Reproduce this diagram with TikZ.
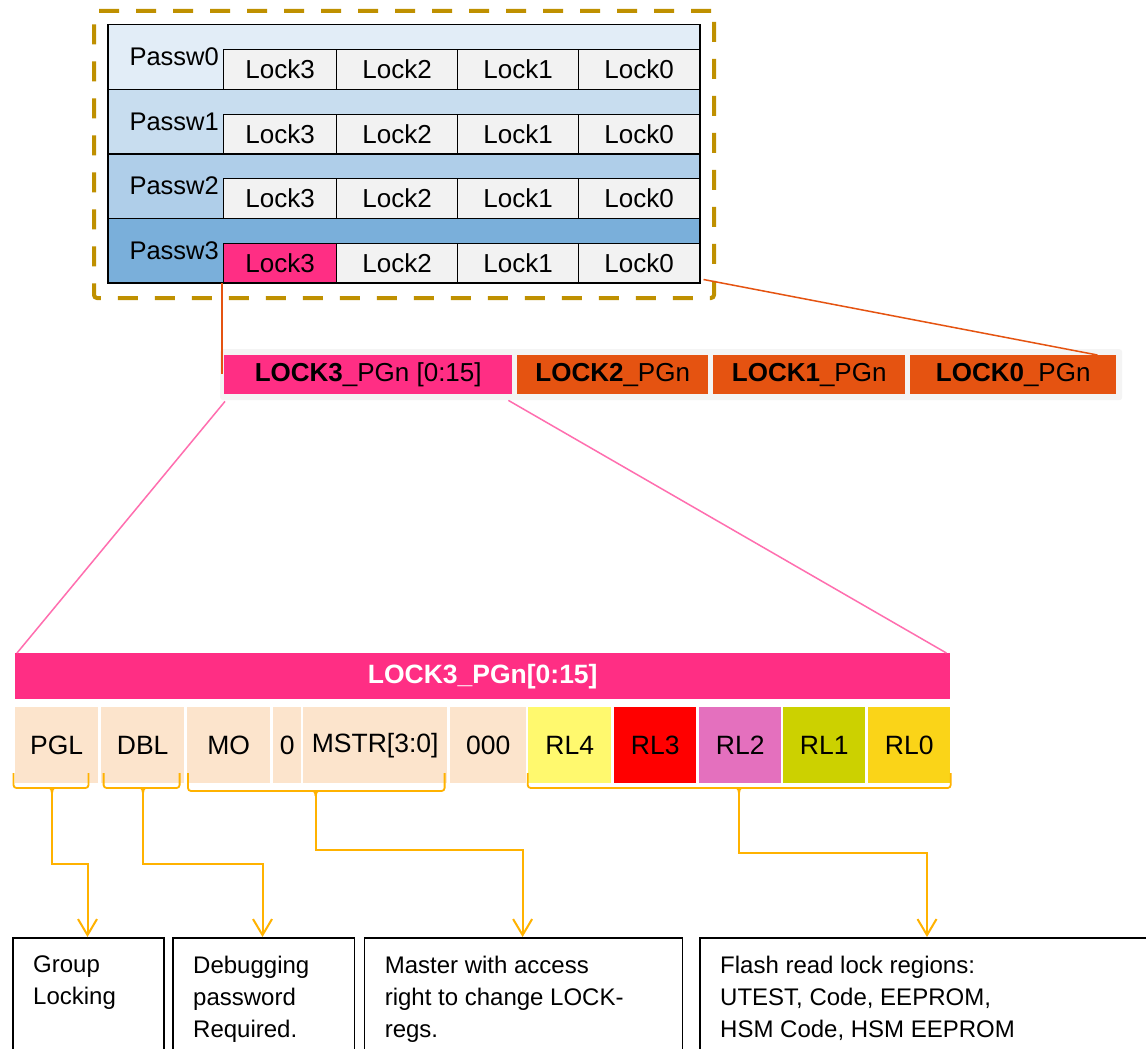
\documentclass[tikz,border=0pt]{standalone}
\usepackage{fontspec}
\setmainfont{Liberation Sans}
\usetikzlibrary{arrows.meta}
\definecolor{dashgold}{RGB}{191,144,0}
\definecolor{rowA}{RGB}{226,237,247}
\definecolor{rowB}{RGB}{200,221,239}
\definecolor{rowC}{RGB}{175,206,233}
\definecolor{rowD}{RGB}{122,175,218}
\definecolor{cellgray}{RGB}{242,242,242}
\definecolor{hotpink}{RGB}{255,46,132}
\definecolor{lockorange}{RGB}{229,83,17}
\definecolor{linkpink}{RGB}{255,110,175}
\definecolor{peach}{RGB}{252,228,204}
\definecolor{rlyellow}{RGB}{255,249,110}
\definecolor{rlred}{RGB}{255,0,0}
\definecolor{rlpink}{RGB}{228,112,190}
\definecolor{rlolive}{RGB}{204,209,0}
\definecolor{rlgold}{RGB}{250,212,24}
\definecolor{amber}{RGB}{255,178,0}
\definecolor{barbg}{RGB}{244,244,244}
\begin{document}
\begin{tikzpicture}[x=1pt,y=-1pt,
  outerdash/.style={draw=dashgold,line width=4pt,dash pattern=on 20pt off 17pt,rounded corners=3pt,anchor=north west,inner sep=0pt},
  rowbox/.style={draw=black,line width=1.5pt,minimum width=592pt,minimum height=64.5pt,anchor=north west,inner sep=0pt},
  lockcell/.style={draw=black,line width=1.2pt,minimum height=39.5pt,anchor=north west,inner sep=0pt,font=\fontsize{26}{30}\selectfont},
  pwlabel/.style={anchor=east,inner sep=0pt,font=\fontsize{25.5}{29}\selectfont},
  midcell/.style={minimum height=39pt,anchor=north west,inner sep=0pt,font=\fontsize{26}{30}\selectfont},
  regcell/.style={minimum height=76pt,anchor=north west,inner sep=0pt,font=\fontsize{26.5}{30}\selectfont},
  bracestyle/.style={draw=amber,line width=1.8pt,rounded corners=3pt},
  cusp/.style={draw=amber,line width=1.8pt},
  conn/.style={draw=amber,line width=2pt,-{Straight Barb[length=16pt,width=19pt]}},
  orangeline/.style={draw=lockorange,line width=1.5pt},
  pinkline/.style={draw=linkpink,line width=1.5pt},
  descbox/.style={draw=black,line width=1.8pt,minimum height=140pt,anchor=north west,inner sep=0pt},
  desctext/.style={anchor=north west,inner sep=0pt,align=left,font=\fontsize{24}{32}\selectfont},
]
\useasboundingbox (0,0) rectangle (1146,1049);
\clip (0,0) rectangle (1146,1049);
\fill[white] (0,0) rectangle (1146,1049);

% dashed frame
\node[outerdash,minimum width=620pt,minimum height=287pt] (frame) at (92,9) {};

% password rows
\foreach \i/\col/\lc [evaluate=\i as \y using 24+64.5*\i] in {0/rowA/cellgray,1/rowB/cellgray,2/rowC/cellgray,3/rowD/hotpink}{
  \node[rowbox,fill=\col] (row\i) at (107,\y) {};
  \node[pwlabel] (pw\i) at (219,\y+33) {Passw\i};
  \node[lockcell,fill=\lc,minimum width=113pt] (lk\i x3) at (223,\y+25) {Lock3};
  \node[lockcell,fill=cellgray,minimum width=121pt] (lk\i x2) at (336,\y+25) {Lock2};
  \node[lockcell,fill=cellgray,minimum width=121pt] (lk\i x1) at (457,\y+25) {Lock1};
  \node[lockcell,fill=cellgray,minimum width=121pt] (lk\i x0) at (578,\y+25) {Lock0};
}

% middle bar
\node[fill=barbg,rounded corners=3pt,minimum width=902pt,minimum height=51pt,anchor=north west,inner sep=0pt] (midbar) at (220,349) {};
\node[midcell,fill=hotpink,minimum width=288pt] (m3) at (224,355) {{\bfseries LOCK3}\_PGn [0:15]};
\node[midcell,fill=lockorange,minimum width=191pt] (m2) at (517,355) {{\bfseries LOCK2}\_PGn};
\node[midcell,fill=lockorange,minimum width=192pt] (m1) at (713,355) {{\bfseries LOCK1}\_PGn};
\node[midcell,fill=lockorange,minimum width=206pt] (m0) at (910,355) {{\bfseries LOCK0}\_PGn};

\draw[orangeline] ([xshift=-1pt]lk3x3.south west) -- ([xshift=-1pt,yshift=-91pt]lk3x3.south west);
\draw[orangeline] ([xshift=3pt,yshift=4pt]row3.south east) -- ([xshift=-19pt]m0.north east);

% register bar
\node[fill=hotpink,minimum width=935pt,minimum height=46pt,anchor=north west,inner sep=0pt,text=white,font=\bfseries\fontsize{26.5}{30}\selectfont] (regbar) at (15,653) {LOCK3\_PGn[0:15]};

\draw[pinkline] ([xshift=1pt,yshift=-7pt]m3.south west) -- ([xshift=2pt]regbar.north west);
\draw[pinkline] ([xshift=-4pt,yshift=-6pt]m3.south east) -- ([xshift=-4pt]regbar.north east);

\foreach \n/\xa/\xb/\col/\t [evaluate=\xb as \w using \xb-\xa] in {
  pgl/15/98/peach/PGL, dbl/101/184/peach/DBL, mo/187/270/peach/MO, zr/273/301/peach/0,
  mstr/303/447/peach/{MSTR[3:0]}, zzz/450/526/peach/000, rlf/528/611/rlyellow/RL4,
  rlt/614/696/rlred/RL3, rls/699/781/rlpink/RL2, rlo/783/865/rlolive/RL1, rlz/868/950/rlgold/RL0}{
  \node[regcell,fill=\col,minimum width=\w pt] (\n) at (\xa,707) {\t};
}

% braces
\foreach \k/\xa/\c/\xb/\h in {1/13.5/52/88.5/788, 2/103.6/143/179.6/788, 3/188/315.7/444.6/791, 4/527.7/739/950.7/788}{
  \draw[bracestyle] (\xa,773) |- (\c,\h) -| (\xb,773);
  \draw[cusp] (\c-5,\h) .. controls (\c-1,\h) .. (\c,\h+5);
  \draw[cusp] (\c+5,\h) .. controls (\c+1,\h) .. (\c,\h+5);
  \coordinate (bc\k) at (\c,\h);
}
\coordinate (k1) at (52,864);
\coordinate (k2) at (143,864);
\coordinate (k3) at (315.7,850);
\coordinate (k4) at (739,853);

% description boxes
\node[descbox,minimum width=151pt] (box1) at (12,937) {};
\node[descbox,minimum width=181.6pt] (box2) at (172,937) {};
\node[descbox,minimum width=318pt] (box3) at (363.6,937) {};
\node[descbox,minimum width=480pt] (box4) at (699,937) {};

\node[desctext] (t1) at ([shift={(21pt,-18.5pt)}]box1.north west) {Group\\Locking};
\node[desctext] (t2) at ([shift={(21pt,-18.5pt)}]box2.north west) {Debugging\\password\\Required.};
\node[desctext] (t3) at ([shift={(21pt,-18.5pt)}]box3.north west) {Master with access\\right to change LOCK-\\regs.};
\node[desctext] (t4) at ([shift={(21pt,-18.5pt)}]box4.north west) {Flash read lock regions:\\UTEST, Code, EEPROM,\\HSM Code, HSM EEPROM};

% connectors
\draw[conn] (bc1) -- (k1) -| ([xshift=75.5pt]box1.north west);
\draw[conn] (bc2) -- (k2) -| ([xshift=90.5pt]box2.north west);
\draw[conn] (bc3) -- (k3) -| ([xshift=159pt]box3.north west);
\draw[conn] (bc4) -- (k4) -| ([xshift=228pt]box4.north west);
\end{tikzpicture}
\end{document}
